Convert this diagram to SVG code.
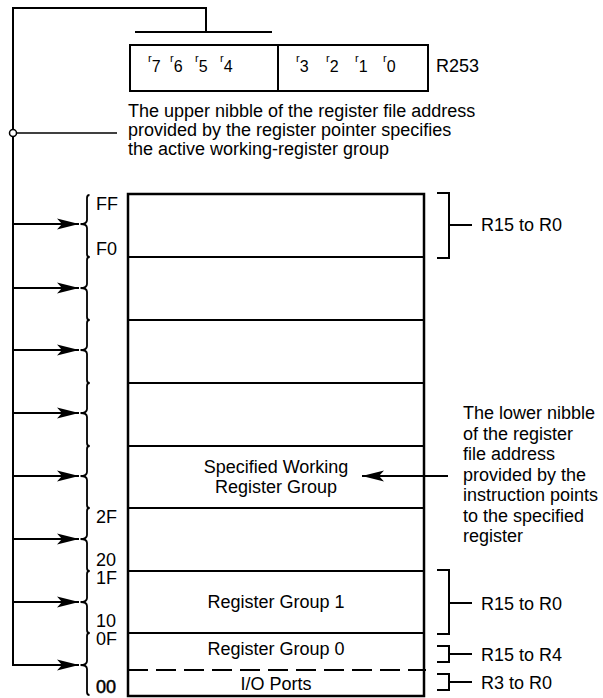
<svg xmlns="http://www.w3.org/2000/svg" width="603" height="698" viewBox="0 0 603 698">
<defs>
<style>
text{font-family:"Liberation Sans",Arial,sans-serif;fill:#000;}
.t{font-size:18px;}
.c{font-size:18px;text-anchor:middle;}
.r{font-size:11px;}
.d{font-size:16px;}
.ln{stroke:#000;stroke-width:2;fill:none;}
.thin{stroke:#000;stroke-width:1.5;fill:none;}
.brace{stroke:#000;stroke-width:1.8;fill:none;}
.box{stroke:#000;stroke-width:2.5;fill:none;}
</style>
<marker id="ah" markerUnits="userSpaceOnUse" viewBox="0 -6 23 12" refX="22" refY="0" markerWidth="23" markerHeight="12" orient="auto">
<path d="M0,-5.5 L22,0 L0,5.5 L5,0 z" fill="#000"/>
</marker>
</defs>
<rect width="603" height="698" fill="#fff"/>

<g id="connectors">
<path class="ln" d="M13,665 L13,8 L206,8 L206,32"/>
<line class="ln" x1="135" y1="32" x2="272" y2="32"/>
<line class="thin" x1="17" y1="133" x2="117" y2="133"/>
<circle cx="13" cy="133" r="3.5" fill="#fff" stroke="#000" stroke-width="1.5"/>
<g class="ln" marker-end="url(#ah)">
<line x1="13" y1="224" x2="79" y2="224"/>
<line x1="13" y1="288" x2="79" y2="288"/>
<line x1="13" y1="350" x2="79" y2="350"/>
<line x1="13" y1="413" x2="79" y2="413"/>
<line x1="13" y1="476" x2="79" y2="476"/>
<line x1="13" y1="539" x2="79" y2="539"/>
<line x1="13" y1="602" x2="79" y2="602"/>
<line x1="12" y1="665" x2="79" y2="665"/>
<line x1="448" y1="476" x2="362" y2="476"/>
</g>
</g>

<g id="braces" class="brace">
<path d="M89.5,195 Q87,195 87,198 L87,220 Q87,224 80.5,224 Q87,224 87,228 L87,254 Q87,257 89.5,257"/>
<path d="M89.5,257 Q87,257 87,260 L87,284 Q87,288 80.5,288 Q87,288 87,292 L87,317 Q87,320 89.5,320"/>
<path d="M89.5,320 Q87,320 87,323 L87,346 Q87,350 80.5,350 Q87,350 87,354 L87,380 Q87,383 89.5,383"/>
<path d="M89.5,383 Q87,383 87,386 L87,409 Q87,413 80.5,413 Q87,413 87,417 L87,443 Q87,446 89.5,446"/>
<path d="M89.5,446 Q87,446 87,449 L87,472 Q87,476 80.5,476 Q87,476 87,480 L87,505 Q87,508 89.5,508"/>
<path d="M89.5,508 Q87,508 87,511 L87,535 Q87,539 80.5,539 Q87,539 87,543 L87,568 Q87,571 89.5,571"/>
<path d="M89.5,571 Q87,571 87,574 L87,598 Q87,602 80.5,602 Q87,602 87,606 L87,630 Q87,633 89.5,633"/>
<path d="M89.5,633 Q87,633 87,636 L87,661 Q87,665 80.5,665 Q87,665 87,669 L87,692 Q87,695 89.5,695"/>
</g>

<g id="address-labels">
<text class="t" x="96" y="210">FF</text>
<text class="t" x="96" y="255">F0</text>
<text class="t" x="96" y="523">2F</text>
<text class="t" x="96" y="566">20</text>
<text class="t" x="96" y="584">1F</text>
<text class="t" x="96" y="627">10</text>
<text class="t" x="96" y="645">0F</text>
<text class="t" x="96" y="693" stroke="#000" stroke-width="0.5">00</text>
</g>

<g id="r253">
<rect class="ln" x="130" y="45" width="298" height="46"/>
<line class="ln" x1="278" y1="45" x2="278" y2="91"/>
<text x="148" y="72"><tspan class="r" dy="-10">r</tspan><tspan class="d" dy="10">7</tspan></text>
<text x="170" y="72"><tspan class="r" dy="-10">r</tspan><tspan class="d" dy="10">6</tspan></text>
<text x="195" y="72"><tspan class="r" dy="-10">r</tspan><tspan class="d" dy="10">5</tspan></text>
<text x="220" y="72"><tspan class="r" dy="-10">r</tspan><tspan class="d" dy="10">4</tspan></text>
<text x="296" y="72"><tspan class="r" dy="-10">r</tspan><tspan class="d" dy="10">3</tspan></text>
<text x="326" y="72"><tspan class="r" dy="-10">r</tspan><tspan class="d" dy="10">2</tspan></text>
<text x="355" y="72"><tspan class="r" dy="-10">r</tspan><tspan class="d" dy="10">1</tspan></text>
<text x="383" y="72"><tspan class="r" dy="-10">r</tspan><tspan class="d" dy="10">0</tspan></text>
<text class="t" x="436" y="72">R253</text>
</g>

<g id="upper-note">
<text class="t" x="128" y="117">The upper nibble of the register file address</text>
<text class="t" x="128" y="136">provided by the register pointer specifies</text>
<text class="t" x="128" y="155">the active working-register group</text>
</g>

<g id="register-file">
<rect class="box" x="128" y="194" width="296" height="502"/>
<g class="ln">
<line x1="128" y1="257" x2="424" y2="257"/>
<line x1="128" y1="320" x2="424" y2="320"/>
<line x1="128" y1="383" x2="424" y2="383"/>
<line x1="128" y1="446" x2="424" y2="446"/>
<line x1="128" y1="508" x2="424" y2="508"/>
<line x1="128" y1="571" x2="424" y2="571"/>
<line x1="128" y1="633" x2="424" y2="633"/>
<line x1="128" y1="670" x2="426" y2="670" stroke-dasharray="20,8"/>
</g>
<g id="specified-group"><text class="c" x="276" y="473">Specified Working</text><text class="c" x="276" y="493">Register Group</text></g>
<g id="group1"><text class="c" x="276" y="608">Register Group 1</text></g>
<g id="group0"><text class="c" x="276" y="655">Register Group 0</text></g>
<g id="io-ports"><text class="c" x="276" y="690">I/O Ports</text></g>
</g>

<g id="lower-note">
<text class="t" x="463" y="419">The lower nibble</text>
<text class="t" x="463" y="439.5">of the register</text>
<text class="t" x="463" y="460">file address</text>
<text class="t" x="463" y="480.5">provided by the</text>
<text class="t" x="463" y="501">instruction points</text>
<text class="t" x="463" y="521.5">to the specified</text>
<text class="t" x="463" y="542">register</text>
</g>

<g id="brackets" class="ln">
<path d="M437,193 L449,193 L449,258 L437,258 M449,225 L472,225"/>
<path d="M437,570 L449,570 L449,634 L437,634 M449,603 L472,603"/>
<path d="M437,646 L449,646 L449,662 L437,662 M449,654 L472,654"/>
<path d="M437,674 L449,674 L449,690 L437,690 M449,682 L472,682"/>
</g>
<g id="bracket-labels">
<text class="t" x="481" y="231">R15 to R0</text>
<text class="t" x="481" y="610">R15 to R0</text>
<text class="t" x="481" y="661">R15 to R4</text>
<text class="t" x="481" y="689">R3 to R0</text>
</g>
</svg>
